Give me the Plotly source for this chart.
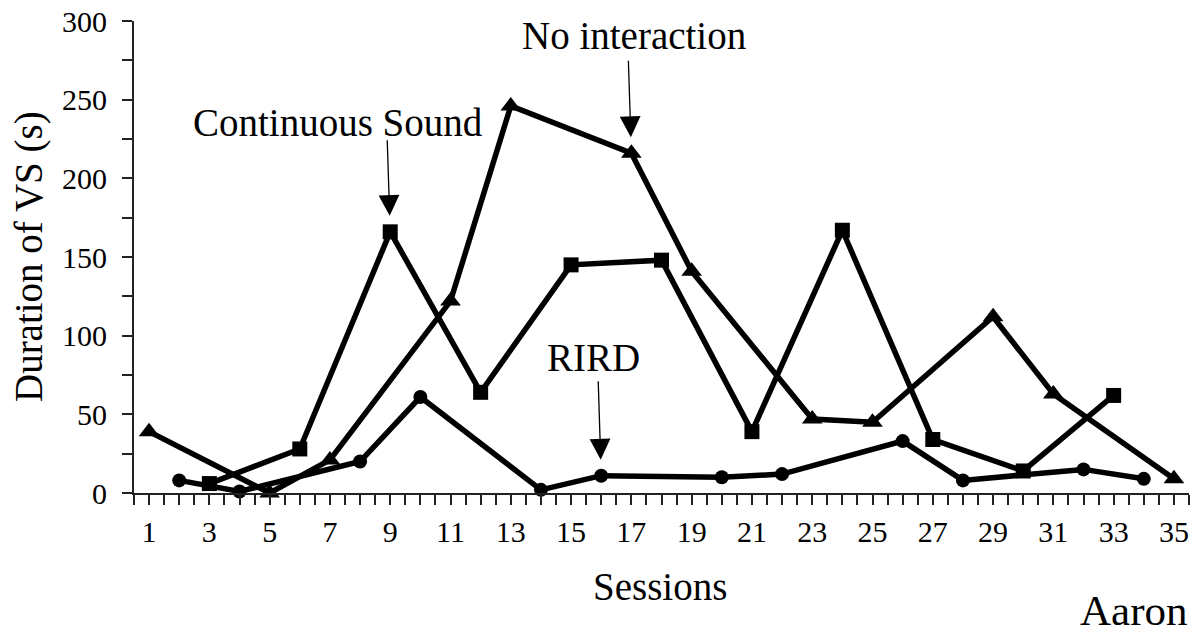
import plotly.graph_objects as go

# Data (Aaron)
rird_sessions = [2, 4, 8, 10, 14, 16, 20, 22, 26, 28, 32, 34]
rird_values = [8, 1, 20, 61, 2, 11, 10, 12, 33, 8, 15, 9]

cs_sessions = [3, 6, 9, 12, 15, 18, 21, 24, 27, 30, 33]
cs_values = [6, 28, 166, 64, 145, 148, 39, 167, 34, 14, 62]

ni_sessions = [1, 5, 7, 11, 13, 17, 19, 23, 25, 29, 31, 35]
ni_values = [39, 0, 21, 122, 246, 216, 141, 47, 45, 112, 63, 9]

y_ticks = [0, 50, 100, 150, 200, 250, 300]
x_ticks = list(range(1, 36, 2))

FONT = "'Liberation Serif', 'Times New Roman', serif"
INK = "#000000"
AXIS = "#222222"

fig = go.Figure()

fig.add_trace(go.Scatter(
    x=ni_sessions, y=ni_values, mode="lines+markers", name="No interaction",
    line=dict(color=INK, width=5.5),
    marker=dict(symbol="triangle-up", size=18, color=INK),
    cliponaxis=False,
))
fig.add_trace(go.Scatter(
    x=cs_sessions, y=cs_values, mode="lines+markers", name="Continuous Sound",
    line=dict(color=INK, width=5.5),
    marker=dict(symbol="square", size=15, color=INK),
    cliponaxis=False,
))
fig.add_trace(go.Scatter(
    x=rird_sessions, y=rird_values, mode="lines+markers", name="RIRD",
    line=dict(color=INK, width=5.5),
    marker=dict(symbol="circle", size=14, color=INK),
    cliponaxis=False,
))

def arrow_to(session, sessions, values, ay):
    v = values[sessions.index(session)]
    return dict(
        x=session, y=v, xref="x", yref="y", text="", showarrow=True,
        font=dict(size=1), borderpad=0,
        ax=-3, ay=ay, arrowhead=2, arrowsize=3.2, arrowwidth=1.3,
        arrowcolor=INK, standoff=16,
    )

annotations = [
    arrow_to(17, ni_sessions, ni_values, -93),
    arrow_to(9, cs_sessions, cs_values, -92),
    arrow_to(16, rird_sessions, rird_values, -95),
    dict(x=17.09, y=290.7, xref="x", yref="y", text="No interaction",
         showarrow=False, font=dict(family=FONT, size=39, color=INK)),
    dict(x=7.26, y=235.6, xref="x", yref="y", text="Continuous Sound",
         showarrow=False, font=dict(family=FONT, size=39, color=INK)),
    dict(x=15.74, y=85.9, xref="x", yref="y", text="RIRD",
         showarrow=False, font=dict(family=FONT, size=39, color=INK)),
    dict(x=1.0, y=-0.248, xref="paper", yref="paper", text="Aaron",
         xanchor="right", yanchor="middle", showarrow=False,
         font=dict(family=FONT, size=43, color=INK)),
    dict(x=0.4986, y=-0.198, xref="paper", yref="paper", text="Sessions",
         xanchor="center", yanchor="middle", showarrow=False,
         font=dict(family=FONT, size=39, color=INK)),
    dict(x=-0.0995, y=0.5, xref="paper", yref="paper", text="Duration of VS (s)",
         textangle=-90, xanchor="center", yanchor="middle", showarrow=False,
         font=dict(family=FONT, size=39, color=INK)),
]

# The page body adds an 8px offset, so the figure is sized to the visible area.
fig.update_layout(
    width=1195, height=626,
    margin=dict(l=126, r=14, t=12.7, b=140.5, autoexpand=False),
    paper_bgcolor="white", plot_bgcolor="white",
    showlegend=False,
    font=dict(family=FONT, color=INK),
    annotations=annotations,
)

fig.update_xaxes(
    range=[0.5, 35.5], tickmode="array", tickvals=x_ticks,
    ticktext=[str(v) for v in x_ticks],
    ticks="outside", ticklen=10, tickwidth=1.5, tickcolor=AXIS,
    minor=dict(dtick=0.5, tick0=0.5, ticks="outside", ticklen=10, tickwidth=1.5, tickcolor=AXIS),
    showline=True, linecolor=AXIS, linewidth=2,
    showgrid=False, zeroline=False, automargin=False,
    ticklabelstandoff=1, ticklabeloverflow="allow",
    tickfont=dict(family=FONT, size=30, color=INK),
)
fig.update_yaxes(
    range=[0, 300], tickmode="array", tickvals=y_ticks,
    ticktext=[str(v) for v in y_ticks],
    ticks="outside", ticklen=10, tickwidth=1.5, tickcolor=AXIS,
    minor=dict(dtick=25, tick0=0, ticks="outside", ticklen=10, tickwidth=1.5, tickcolor=AXIS),
    showline=True, linecolor=AXIS, linewidth=2,
    showgrid=False, zeroline=False, automargin=False,
    ticklabelstandoff=9, ticklabeloverflow="allow",
    tickfont=dict(family=FONT, size=30, color=INK),
)

fig.write_html("out.html")
